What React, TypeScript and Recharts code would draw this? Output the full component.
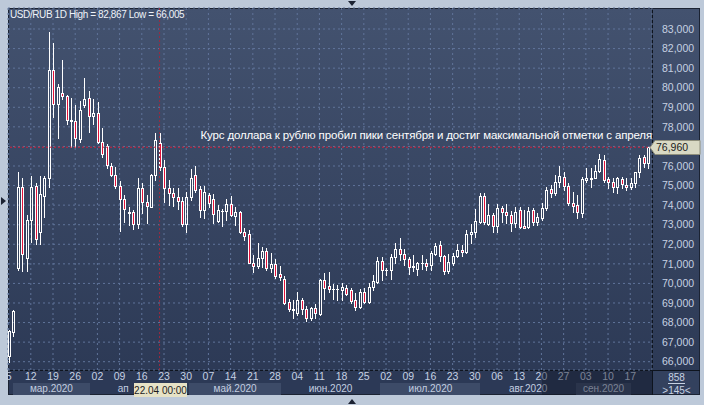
import React from "react";
import { ComposedChart, Bar, XAxis, YAxis, CartesianGrid, ReferenceLine } from "recharts";

// USD/RUB daily, 05.03.2020 - 23.09.2020 (145 bars)
const opens = [
  66.3, 67.53, 70.77, 74.91, 71.28, 73.24, 74.96, 72.64, 74.48, 75.37,
  80.9, 79.15, 79.72, 79.58, 78.35, 78.31, 77.38, 79.12, 79.46, 78.57,
  78.69, 77.21, 77.04, 76.01, 75.52, 74.99, 74.31, 73.65, 73.66, 73.02,
  74.86, 74.14, 73.92, 75.54, 77.16, 75.93, 74.86, 74.6, 74.4, 74.21,
  73.02, 74.4, 75.54, 74.82, 73.75, 74.52, 74.31, 73.2, 73.7, 73.72,
  74.06, 73.46, 73.66, 72.64, 72.51, 71.06, 70.89, 71.31, 71.66, 70.77,
  70.98, 70.48, 70.22, 69.03, 68.64, 68.47, 69.15, 68.68, 68.22, 68.76,
  68.44, 70.17, 69.87, 69.72, 69.7, 69.66, 69.75, 69.66, 69.15, 68.81,
  69.58, 69.07, 69.8, 70.09, 71.12, 70.68, 70.68, 71.37, 71.76, 71.5,
  71.23, 70.89, 70.75, 71.03, 71.03, 70.94, 71.5, 71.96, 71.42, 70.65,
  71.06, 71.4, 71.71, 71.59, 72.52, 72.64, 73.15, 74.47, 73.04, 73.5,
  72.93, 73.84, 73.66, 73.5, 73.1, 73.75, 72.93, 72.88, 73.75, 73.15,
  73.36, 73.84, 74.82, 74.6, 75.2, 75.45, 74.99, 74.09, 74.0, 73.58,
  75.28, 75.33, 75.4, 75.74, 76.31, 75.32, 75.17, 74.94, 75.33, 75.03,
  74.91, 75.12, 75.71, 76.44, 76.14,
];
const highs = [
  67.6, 68.65, 75.71, 75.37, 73.5, 75.49, 75.12, 75.49, 75.5, 82.867,
  82.27, 80.17, 81.42, 79.63, 79.49, 79.12, 79.32, 80.48, 79.83, 79.42,
  79.25, 77.93, 77.11, 76.17, 75.96, 75.25, 74.52, 73.92, 73.75, 75.37,
  75.11, 74.52, 75.6, 77.7, 77.67, 76.31, 75.28, 74.86, 74.86, 74.43,
  74.69, 75.83, 76.0, 74.99, 74.98, 74.64, 74.57, 74.0, 73.79, 74.3,
  74.47, 73.89, 73.72, 72.82, 72.73, 71.45, 72.08, 71.88, 71.83, 71.54,
  71.25, 70.91, 70.38, 69.19, 69.15, 69.58, 69.27, 68.85, 68.78, 68.95,
  70.22, 70.55, 70.6, 69.97, 69.92, 70.04, 69.92, 69.75, 69.49, 69.7,
  69.75, 70.0, 70.43, 71.33, 71.37, 70.77, 71.5, 72.08, 72.3, 71.76,
  71.37, 71.45, 71.11, 71.45, 71.23, 71.67, 72.05, 72.18, 71.45, 71.5,
  71.57, 72.0, 71.96, 72.73, 73.03, 73.79, 74.6, 74.6, 74.06, 73.58,
  74.06, 73.96, 74.06, 73.72, 73.89, 73.89, 73.75, 73.89, 73.84, 73.58,
  74.09, 74.94, 75.03, 75.54, 76.01, 75.71, 75.11, 74.69, 74.52, 75.45,
  75.88, 75.88, 76.05, 76.6, 76.56, 75.45, 75.37, 75.45, 75.45, 75.37,
  75.37, 75.71, 76.56, 76.56, 76.99,
];
const lows = [
  66.005, 67.33, 70.7, 70.65, 70.65, 72.13, 72.0, 72.0, 73.41, 74.91,
  78.52, 77.41, 79.42, 78.16, 76.99, 76.99, 77.24, 79.03, 77.72, 78.16,
  77.15, 76.47, 75.91, 75.49, 74.86, 72.69, 73.15, 72.98, 72.77, 72.82,
  73.58, 73.07, 73.92, 75.28, 75.8, 74.18, 74.0, 73.96, 73.79, 72.95,
  72.64, 74.26, 74.69, 73.41, 73.33, 73.89, 73.07, 73.15, 72.93, 73.24,
  73.44, 72.98, 72.6, 72.22, 71.03, 70.6, 70.77, 70.85, 70.69, 70.6,
  70.26, 70.17, 68.95, 68.59, 68.22, 68.39, 68.42, 68.1, 68.13, 68.22,
  68.39, 69.19, 69.58, 69.19, 69.15, 69.15, 69.4, 68.98, 68.64, 68.73,
  69.01, 68.98, 69.66, 70.0, 70.17, 70.43, 70.22, 71.03, 71.2, 70.94,
  70.48, 70.65, 70.43, 70.72, 70.69, 70.69, 71.45, 71.16, 70.48, 70.55,
  70.94, 71.37, 71.4, 71.54, 72.08, 72.39, 73.1, 73.03, 72.98, 72.64,
  72.64, 73.15, 73.1, 72.69, 72.9, 72.82, 72.82, 72.82, 72.98, 72.98,
  73.24, 73.75, 74.43, 74.52, 74.94, 74.77, 74.0, 73.66, 73.36, 73.41,
  75.2, 74.94, 75.37, 75.68, 75.2, 74.86, 74.69, 74.6, 74.86, 74.77,
  74.82, 74.94, 75.45, 75.96, 75.91,
];
const closes = [
  67.55, 68.6, 74.91, 71.49, 73.24, 74.91, 72.25, 74.55, 75.37, 80.9,
  79.15, 80.02, 79.6, 78.33, 78.3, 77.45, 78.85, 79.42, 78.57, 78.69,
  77.21, 76.6, 76.05, 75.52, 74.98, 74.31, 73.8, 73.62, 73.02, 74.86,
  74.14, 73.97, 75.54, 77.33, 75.93, 74.86, 74.6, 74.4, 74.21, 73.02,
  74.4, 75.37, 74.77, 73.75, 74.69, 74.09, 73.53, 73.75, 73.72, 74.06,
  73.5, 73.63, 72.64, 72.44, 71.06, 70.89, 71.31, 71.66, 70.77, 70.99,
  70.38, 70.34, 69.01, 68.68, 68.71, 69.15, 68.68, 68.22, 68.73, 68.47,
  70.17, 69.75, 69.7, 69.7, 69.72, 69.8, 69.46, 69.12, 68.81, 69.58,
  69.07, 69.8, 70.12, 71.16, 70.68, 70.7, 71.37, 71.74, 71.5, 71.23,
  70.82, 70.82, 71.03, 71.05, 70.91, 71.54, 71.91, 71.4, 70.65, 71.08,
  71.42, 71.71, 71.59, 72.52, 72.64, 73.19, 74.47, 73.15, 73.5, 72.93,
  73.84, 73.66, 73.5, 73.1, 73.66, 72.9, 72.85, 73.72, 73.15, 73.41,
  73.84, 74.77, 74.6, 75.2, 75.49, 74.99, 74.09, 73.97, 73.66, 75.33,
  75.37, 75.4, 75.74, 76.34, 75.28, 75.17, 74.94, 75.37, 75.06, 74.91,
  75.12, 75.68, 76.39, 76.14, 76.96,
];

// weekly (Thursday) ticks and their day labels
const dayTicks = [0, 5, 10, 15, 20, 25, 30, 35, 40, 45, 50, 55, 60, 65, 70, 75, 80, 85, 90, 95, 100, 105, 110, 115, 120, 125, 130, 135, 140];
const dayLabels = ["5", "12", "19", "26", "02", "09", "16", "23", "30", "07", "14", "21", "28", "04", "11", "18", "25", "02", "09", "16", "23", "30", "06", "13", "20", "27", "03", "10", "17"];
const priceTicks = [66, 67, 68, 69, 70, 71, 72, 73, 74, 75, 76, 77, 78, 79, 80, 81, 82, 83];

const monthNames = ["мар.2020", "апр.2020", "май.2020", "июн.2020", "июл.2020", "авг.2020", "сен.2020"];
const monthSpans = [[0.8, 18.5], [18.5, 40.5], [40.5, 61.5], [61.5, 83.5], [83.5, 106.5], [106.5, 127.5], [127.5, 140.5]];

const lastPrice = 76.96;
const crossIndex = 34;
const crossLabel = "22.04 00:00";
const title = "USD/RUB 1D High = 82,867 Low = 66,005";
const note = "Курс доллара к рублю пробил пики сентября и достиг максимальной отметки с апреля";

const X_MIN = -0.135;
const X_MAX = 144.9;
const Y_MIN = 65.576;
const Y_MAX = 84.073;
const PLOT_L = 8;
const PLOT_R = 652;

const RED = "#e3123a";
const FONT = "'Liberation Sans', Arial, sans-serif";

const data = opens.map((o, i) => ({
  i,
  open: o,
  high: highs[i],
  low: lows[i],
  close: closes[i],
  range: [lows[i], highs[i]],
}));

// only used for the html month strip under the axis
const xOf = (i: number) => PLOT_L + ((i - X_MIN) / (X_MAX - X_MIN)) * (PLOT_R - PLOT_L);

function Candle(props: any) {
  const { x, y, width, height, payload } = props;
  if (payload == null || y == null) return null;
  const cx = Math.round(x + width / 2);
  const top = Math.min(y, y + height);
  const h = Math.abs(height);
  const span = payload.high - payload.low || 1;
  const py = (v: number) => top + ((payload.high - v) / span) * h;
  const up = payload.close >= payload.open;
  const bt = Math.round(py(Math.max(payload.open, payload.close))) + 0.5;
  const bb = Math.round(py(Math.min(payload.open, payload.close))) + 0.5;
  const wx = cx + 0.5;
  return (
    <g>
      <line x1={wx} x2={wx} y1={Math.round(top)} y2={bt} stroke="#fff" />
      <line x1={wx} x2={wx} y1={bb} y2={Math.round(top + h) + 1} stroke="#fff" />
      {bb - bt < 1 ? (
        <line x1={cx - 1} x2={cx + 2} y1={bt} y2={bt} stroke="#fff" />
      ) : (
        <rect x={cx - 0.5} y={bt} width={2} height={bb - bt} fill={up ? "none" : RED} stroke="#fff" />
      )}
    </g>
  );
}

function PriceTag(props: any) {
  const vb = props.viewBox;
  if (!vb) return null;
  const x = vb.x + vb.width;
  const y = Math.round(vb.y) + 0.5;
  return (
    <g>
      <polygon
        points={`${x - 2},${y} ${x + 3},${y - 7} ${x + 48},${y - 7} ${x + 48},${y + 7} ${x + 3},${y + 7}`}
        fill="#d9d9c4"
        stroke="#8f8f7c"
      />
      <text x={x + 4} y={y} dy="0.36em" fontSize={10.5} fill="#1c1c1c" fontFamily={FONT}>
        {lastPrice.toFixed(3).replace(".", ",")}
      </text>
    </g>
  );
}

function DateTag(props: any) {
  const vb = props.viewBox;
  if (!vb) return null;
  const cx = Math.round(vb.x);
  const y = vb.y + vb.height + 13;
  return (
    <g>
      <rect x={cx - 26} y={y} width={53} height={14} fill="#e6e2c6" />
      <text x={cx + 0.5} y={y + 7} dy="0.36em" textAnchor="middle" fontSize={10} fill="#1c1c1c" fontFamily={FONT}>
        {crossLabel}
      </text>
    </g>
  );
}

export default function App() {
  return (
    <div
      style={{
        position: "absolute",
        left: 0,
        top: 0,
        width: 704,
        height: 405,
        background: "#bdc9d9",
        overflow: "hidden",
        fontFamily: FONT,
      }}
    >
      {/* panel */}
      <div
        style={{
          position: "absolute",
          left: 8,
          top: 8,
          width: 692,
          height: 387,
          background: "linear-gradient(#43526f, #2b3854)",
          boxShadow: "inset 0 0 0 1px #1b2333",
        }}
      />
      {/* date strip */}
      <div style={{ position: "absolute", left: 9, top: 370, width: 643, height: 24, background: "#2c3956" }} />
      <div style={{ position: "absolute", left: 653, top: 370, width: 46, height: 24, background: "#33415e" }} />
      {monthSpans.map((s, k) => {
        const l = xOf(s[0]) + 1;
        const r = xOf(s[1]) - 1;
        return (
          <div
            key={k}
            style={{
              position: "absolute",
              left: l,
              top: 383,
              width: r - l,
              height: 12,
              background: k % 2 === 0 ? "#3d4b68" : "transparent",
              color: "#c3cee0",
              fontSize: 10,
              lineHeight: "12px",
              textAlign: k === 1 ? "left" : "center",
              paddingLeft: k === 1 ? 26 : 0,
              boxSizing: "border-box",
              overflow: "hidden",
              whiteSpace: "nowrap",
            }}
          >
            {k === 1 ? monthNames[k].slice(0, 2) : monthNames[k]}
          </div>
        );
      })}
      <div style={{ position: "absolute", left: 9, top: 370, width: 691, height: 1, background: "#0e141e" }} />
      <div style={{ position: "absolute", left: 652, top: 8, width: 1, height: 387, background: "#0e141e" }} />

      <div style={{ position: "absolute", left: 0, top: 0 }}>
        <ComposedChart width={704} height={405} data={data} margin={{ top: 8, right: 4, bottom: 10, left: 8 }}>
          <CartesianGrid stroke="#60749a" strokeDasharray="2 3" />
          <XAxis
            dataKey="i"
            type="number"
            domain={[X_MIN, X_MAX]}
            allowDataOverflow
            ticks={dayTicks}
            interval={0}
            tickFormatter={(v) => dayLabels[dayTicks.indexOf(v)] ?? ""}
            axisLine={false}
            tickLine={false}
            tickSize={0}
            tickMargin={3}
            height={25}
            tick={{ fill: "#c6d1e2", fontSize: 10.5, fontFamily: FONT }}
          />
          <YAxis
            orientation="right"
            type="number"
            domain={[Y_MIN, Y_MAX]}
            allowDataOverflow
            ticks={priceTicks}
            interval={0}
            tickFormatter={(v) => (Math.abs(v - lastPrice) < 0.5 ? "" : v.toFixed(3).replace(".", ","))}
            axisLine={false}
            tickLine={false}
            tickSize={6}
            tickMargin={4}
            width={48}
            tick={{ fill: "#c6d1e2", fontSize: 10.5, fontFamily: FONT }}
          />
          <ReferenceLine x={crossIndex} stroke="#9a2a40" strokeDasharray="2 2" label={<DateTag />} />
          <ReferenceLine y={lastPrice} stroke="#d0203c" strokeDasharray="2 2" label={<PriceTag />} />
          <Bar dataKey="range" barSize={3} shape={<Candle />} isAnimationActive={false} />
        </ComposedChart>
      </div>

      {/* dimmed right part of the date strip */}
      <div
        style={{
          position: "absolute",
          left: xOf(120.05),
          top: 371,
          width: PLOT_R - xOf(120.05),
          height: 24,
          background: "rgba(16,22,36,0.42)",
        }}
      />
      {/* bars counter */}
      <div style={{ position: "absolute", left: 653, top: 372, width: 47, textAlign: "center", color: "#c6d1e2", fontSize: 10, lineHeight: "11px" }}>
        <span style={{ borderBottom: "1px solid #c6d1e2" }}>858</span>
        <div style={{ marginTop: 2 }}>&gt;145&lt;</div>
      </div>

      <div
        style={{
          position: "absolute",
          left: 10,
          top: 8,
          color: "#eef2f8",
          fontSize: 10,
          letterSpacing: -0.4,
          lineHeight: "13px",
          whiteSpace: "nowrap",
        }}
      >
        {title}
      </div>
      <div
        style={{
          position: "absolute",
          right: 704 - PLOT_R,
          top: 128,
          color: "#ffffff",
          fontSize: 11.5,
          letterSpacing: -0.15,
          lineHeight: "15px",
          whiteSpace: "nowrap",
        }}
      >
        {note}
      </div>

      {/* scroll markers */}
      <svg width={704} height={405} style={{ position: "absolute", left: 0, top: 0, pointerEvents: "none" }}>
        <polygon points="348,1 356,1 352,6" fill="#1c2333" />
        <polygon points="348,404 356,404 352,399" fill="#1c2333" />
        <polygon points="1,197 1,205 6,201" fill="#1c2333" />
      </svg>
    </div>
  );
}
